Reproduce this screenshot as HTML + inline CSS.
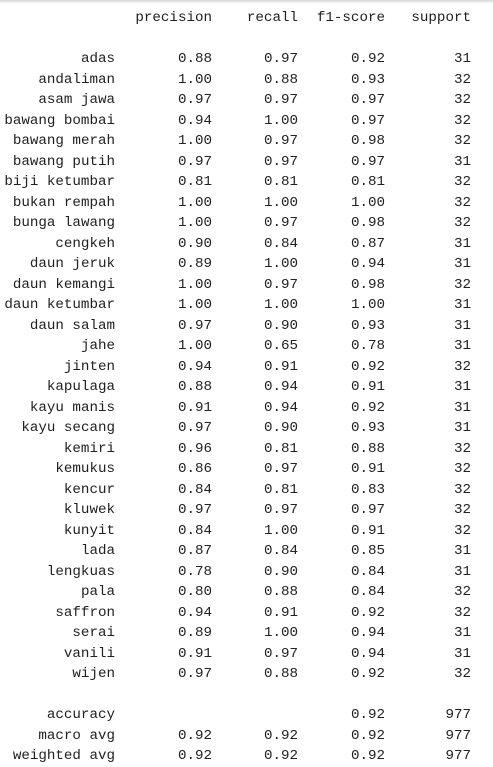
<!DOCTYPE html>
<html><head><meta charset="utf-8">
<style>
html,body{margin:0;padding:0;background:#fff;}
body{width:493px;height:767px;position:relative;overflow:hidden;font-family:"Liberation Mono",monospace;font-size:14.2px;color:#212121;}
.shadow{position:absolute;left:0;top:0;width:493px;height:4px;background:linear-gradient(#d8d8d8,#fff);}
.c{position:absolute;white-space:pre;text-align:right;line-height:20px;height:20px;}
</style></head>
<body>
<div class="shadow"></div>
<div id="rep"></div>
<script>
const headers = ["precision","recall","f1-score","support"];
const classes = ["adas","andaliman","asam jawa","bawang bombai","bawang merah","bawang putih","biji ketumbar","bukan rempah","bunga lawang","cengkeh","daun jeruk","daun kemangi","daun ketumbar","daun salam","jahe","jinten","kapulaga","kayu manis","kayu secang","kemiri","kemukus","kencur","kluwek","kunyit","lada","lengkuas","pala","saffron","serai","vanili","wijen"];
const precision = [0.88,1.00,0.97,0.94,1.00,0.97,0.81,1.00,1.00,0.90,0.89,1.00,1.00,0.97,1.00,0.94,0.88,0.91,0.97,0.96,0.86,0.84,0.97,0.84,0.87,0.78,0.80,0.94,0.89,0.91,0.97];
const recall = [0.97,0.88,0.97,1.00,0.97,0.97,0.81,1.00,0.97,0.84,1.00,0.97,1.00,0.90,0.65,0.91,0.94,0.94,0.90,0.81,0.97,0.81,0.97,1.00,0.84,0.90,0.88,0.91,1.00,0.97,0.88];
const f1 = [0.92,0.93,0.97,0.97,0.98,0.97,0.81,1.00,0.98,0.87,0.94,0.98,1.00,0.93,0.78,0.92,0.91,0.92,0.93,0.88,0.91,0.83,0.97,0.91,0.85,0.84,0.84,0.92,0.94,0.94,0.92];
const support = [31,32,32,32,32,31,32,32,32,31,31,32,31,31,31,32,31,31,31,32,32,32,32,32,31,31,32,32,31,31,32];
const summaryNames = ["accuracy","macro avg","weighted avg"];
const summaryP = [null,0.92,0.92];
const summaryR = [null,0.92,0.92];
const summaryF = [0.92,0.92,0.92];
const summaryS = [977,977,977];

const rep = document.getElementById('rep');
const rightEdges = [115,212,298,385,471];
function cell(text, col, yc, name){
  const d = document.createElement('div');
  d.className='c';
  d.textContent=text;
  d.style.right=(493-rightEdges[col])+'px';
  d.style.top=(yc-10)+'px';
  
  
  rep.appendChild(d);
}
headers.forEach((h,i)=>cell(h,i+1,18,'header-'+h));
function rowY(i){return 59+i*20.5;}
classes.forEach((c,i)=>{
  const y=rowY(i);
  const k=c.replace(/ /g,'-');
  cell(c,0,y,'label-'+k);
  cell(precision[i].toFixed(2),1,y,'precision-'+k);
  cell(recall[i].toFixed(2),2,y,'recall-'+k);
  cell(f1[i].toFixed(2),3,y,'f1-'+k);
  cell(String(support[i]),4,y,'support-'+k);
});
const sumY=[715,736,756];
summaryNames.forEach((n,i)=>{
  const y=sumY[i];
  const k=n.replace(/ /g,'-');
  cell(n,0,y,'label-'+k);
  if(summaryP[i]!==null) cell(summaryP[i].toFixed(2),1,y,'precision-'+k);
  if(summaryR[i]!==null) cell(summaryR[i].toFixed(2),2,y,'recall-'+k);
  cell(summaryF[i].toFixed(2),3,y,'f1-'+k);
  cell(String(summaryS[i]),4,y,'support-'+k);
});
</script>
</body></html>
